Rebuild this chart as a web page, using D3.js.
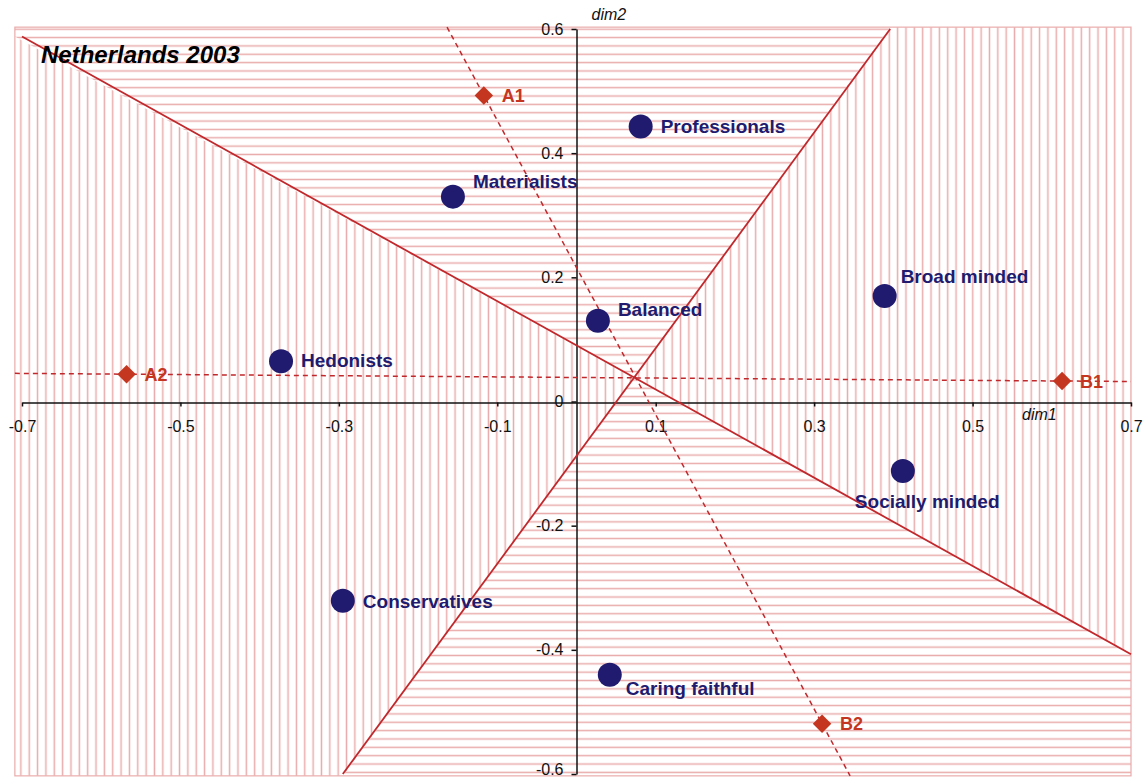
<!DOCTYPE html>
<html>
<head>
<meta charset="utf-8">
<script src="https://cdn.jsdelivr.net/npm/d3@7"></script>
<style>
  body { margin: 0; background: #fff; }
  svg text { font-family: "Liberation Sans", Arial, Helvetica, sans-serif; }
</style>
</head>
<body>
<div id="chart"></div>
<script>
// values
var segmentNames = ['Professionals', 'Materialists', 'Broad minded', 'Balanced',
  'Hedonists', 'Socially minded', 'Conservatives', 'Caring faithful'];
var segmentDim1 = [0.081, -0.156, 0.389, 0.027, -0.373, 0.412, -0.295, 0.042];
var segmentDim2 = [0.443, 0.330, 0.170, 0.130, 0.065, -0.112, -0.321, -0.440];

var poleNames = ['A1', 'A2', 'B1', 'B2'];
var poleDim1 = [-0.117, -0.568, 0.613, 0.310];
var poleDim2 = [0.493, 0.044, 0.033, -0.519];
var dashedPairs = [['A1', 'B2'], ['A2', 'B1']];

// the two solid dividing lines (end points on the frame)
var divideA = [[-0.7, 0.588], [0.7, -0.407]];
var divideB = [[-0.295, -0.6], [0.396, 0.6]];

var xTicks = [-0.7, -0.5, -0.3, -0.1, 0.1, 0.3, 0.5, 0.7];
var yTicks = [0.6, 0.4, 0.2, 0, -0.2, -0.4, -0.6];

var width = 1147, height = 778;

// label offsets (px) for each segment
var labelOffset = {
  'Professionals': [20, 7], 'Materialists': [20, -9], 'Broad minded': [16, -13],
  'Balanced': [20, -5], 'Hedonists': [20, 6], 'Socially minded': [-48, 37],
  'Conservatives': [20, 7], 'Caring faithful': [16, 20]
};

var navy = '#201b6e', red = '#c4361f', lineRed = '#c0282c', hatch = '#eaabab';

var svg = d3.select('#chart')
  .append('svg')
  .attr('width', width)
  .attr('height', height);

var xScale = d3.scaleLinear().domain([-0.7, 0.7]).range([22, 1131]);
var yScale = d3.scaleLinear().domain([-0.6, 0.6]).range([774, 29]);

// hatch patterns
var defs = svg.append('defs');
var step = 8.35;
defs.append('pattern')
  .attr('id', 'hatch-v')
  .attr('patternUnits', 'userSpaceOnUse')
  .attr('width', step).attr('height', step)
  .append('line')
  .attr('x1', step / 2).attr('x2', step / 2)
  .attr('y1', 0).attr('y2', step)
  .style('stroke', hatch).style('stroke-width', 1.5);

defs.append('pattern')
  .attr('id', 'hatch-h')
  .attr('patternUnits', 'userSpaceOnUse')
  .attr('width', step).attr('height', step)
  .append('line')
  .attr('y1', step / 2).attr('y2', step / 2)
  .attr('x1', 0).attr('x2', step)
  .style('stroke', hatch).style('stroke-width', 1.5);

// intersection of the two dividing lines
function intersect(l1, l2) {
  var [[x1, y1], [x2, y2]] = l1, [[x3, y3], [x4, y4]] = l2;
  var den = (x1 - x2) * (y3 - y4) - (y1 - y2) * (x3 - x4);
  var a = x1 * y2 - y1 * x2, b = x3 * y4 - y3 * x4;
  return [(a * (x3 - x4) - (x1 - x2) * b) / den, (a * (y3 - y4) - (y1 - y2) * b) / den];
}
var P = intersect(divideA, divideB);

var x0 = -0.709, x1 = 0.7, y0 = -0.603, y1 = 0.603;
var regions = [
  { fill: 'url(#hatch-h)', pts: [[x0, divideA[0][1]], [x0, y1], [divideB[1][0], y1], P] },
  { fill: 'url(#hatch-v)', pts: [[divideB[1][0], y1], [x1, y1], divideA[1], P] },
  { fill: 'url(#hatch-h)', pts: [divideA[1], [x1, y0], [divideB[0][0], y0], P] },
  { fill: 'url(#hatch-v)', pts: [[divideB[0][0], y0], [x0, y0], [x0, divideA[0][1]], P] }
];

svg.append('g')
  .attr('class', 'hatching')
  .selectAll('path')
  .data(regions)
  .enter()
  .append('path')
  .attr('d', d => 'M' + d.pts.map(p => xScale(p[0]) + ',' + yScale(p[1])).join('L') + 'Z')
  .attr('fill', d => d.fill);

// frame
svg.append('rect')
  .attr('x', xScale(x0)).attr('y', yScale(y1))
  .attr('width', xScale(x1) - xScale(x0))
  .attr('height', yScale(y0) - yScale(y1))
  .attr('fill', 'none')
  .style('stroke', hatch).style('stroke-width', 1.2);

// axes
var xAxis = d3.axisBottom(xScale)
  .tickValues(xTicks)
  .tickSize(4)
  .tickSizeOuter(0)
  .tickPadding(14)
  .tickFormat(d => String(d));

var yAxis = d3.axisLeft(yScale)
  .tickValues(yTicks)
  .tickSize(5)
  .tickSizeOuter(0)
  .tickPadding(8)
  .tickFormat(d => String(d));

var gx = svg.append('g')
  .attr('class', 'x-axis')
  .attr('transform', `translate(0,${yScale(0) + 1})`)
  .call(xAxis);

var gy = svg.append('g')
  .attr('class', 'y-axis')
  .attr('transform', `translate(${xScale(0)},0)`)
  .call(yAxis);

[gx, gy].forEach(g => {
  g.select('.domain').style('stroke', '#111').style('stroke-width', 1.5);
  g.selectAll('.tick line').style('stroke', '#111').style('stroke-width', 1.5);
  g.selectAll('.tick text')
    .style('font-size', '16px')
    .style('fill', '#111')
    .style('font-family', '"Liberation Sans", Arial, sans-serif');
});

// the bottom label sits at the edge of the picture, lift it a little
gy.selectAll('.tick text')
  .filter(d => d === -0.6)
  .attr('dy', '0.05em');

svg.append('text')
  .attr('x', xScale(0) + 15)
  .attr('y', 20)
  .style('font-size', '16px')
  .style('font-style', 'italic')
  .style('fill', '#111')
  .text('dim2');

svg.append('text')
  .attr('x', 1022)
  .attr('y', 420)
  .style('font-size', '16px')
  .style('font-style', 'italic')
  .style('fill', '#111')
  .text('dim1');

// dividing lines
svg.append('g')
  .selectAll('line')
  .data([divideA, divideB])
  .enter()
  .append('line')
  .attr('x1', d => xScale(d[0][0]))
  .attr('y1', d => yScale(d[0][1]))
  .attr('x2', d => xScale(d[1][0]))
  .attr('y2', d => yScale(d[1][1]))
  .style('stroke', lineRed)
  .style('stroke-width', 1.8);

// dashed lines through the poles, extended to the frame
var poles = poleNames.map((n, i) => ({ name: n, x: poleDim1[i], y: poleDim2[i] }));
var poleBy = {};
poles.forEach(p => { poleBy[p.name] = p; });

function extend(a, b) {
  var dx = b.x - a.x, dy = b.y - a.y;
  var ts = [];
  if (dx !== 0) { ts.push((x0 - a.x) / dx, (x1 - a.x) / dx); }
  if (dy !== 0) { ts.push((y0 - a.y) / dy, (y1 - a.y) / dy); }
  var inside = ts.map(t => [a.x + t * dx, a.y + t * dy])
    .filter(p => p[0] >= x0 - 1e-9 && p[0] <= x1 + 1e-9 && p[1] >= y0 - 1e-9 && p[1] <= y1 + 1e-9);
  inside.sort((p, q) => p[0] - q[0]);
  return [inside[0], inside[inside.length - 1]];
}

svg.append('g')
  .selectAll('line')
  .data(dashedPairs.map(pr => extend(poleBy[pr[0]], poleBy[pr[1]])))
  .enter()
  .append('line')
  .attr('x1', d => xScale(d[0][0]))
  .attr('y1', d => yScale(d[0][1]))
  .attr('x2', d => xScale(d[1][0]))
  .attr('y2', d => yScale(d[1][1]))
  .style('stroke', lineRed)
  .style('stroke-width', 1.5)
  .style('stroke-dasharray', '5,4');

// pole markers
var poleG = svg.append('g').attr('class', 'poles');
poleG.selectAll('path')
  .data(poles)
  .enter()
  .append('path')
  .attr('d', d3.symbol().type(d3.symbolSquare).size(170))
  .attr('transform', d => `translate(${xScale(d.x)},${yScale(d.y)}) rotate(45)`)
  .style('fill', red);

poleG.selectAll('text')
  .data(poles)
  .enter()
  .append('text')
  .attr('x', d => xScale(d.x) + 18)
  .attr('y', d => yScale(d.y) + 6.5)
  .style('font-size', '18px')
  .style('font-weight', 'bold')
  .style('fill', red)
  .text(d => d.name);

// segments
var segments = segmentNames.map((n, i) => ({ name: n, x: segmentDim1[i], y: segmentDim2[i] }));
var segG = svg.append('g').attr('class', 'segments');
segG.selectAll('circle')
  .data(segments)
  .enter()
  .append('circle')
  .attr('cx', d => xScale(d.x))
  .attr('cy', d => yScale(d.y))
  .attr('r', 12)
  .style('fill', navy);

segG.selectAll('text')
  .data(segments)
  .enter()
  .append('text')
  .attr('x', d => xScale(d.x) + labelOffset[d.name][0])
  .attr('y', d => yScale(d.y) + labelOffset[d.name][1])
  .style('font-size', '19px')
  .style('font-weight', 'bold')
  .style('fill', navy)
  .text(d => d.name);

// title
svg.append('text')
  .attr('x', 41)
  .attr('y', 63)
  .style('font-size', '24px')
  .style('font-weight', 'bold')
  .style('font-style', 'italic')
  .style('fill', '#000')
  .text('Netherlands 2003');
</script>
</body>
</html>
